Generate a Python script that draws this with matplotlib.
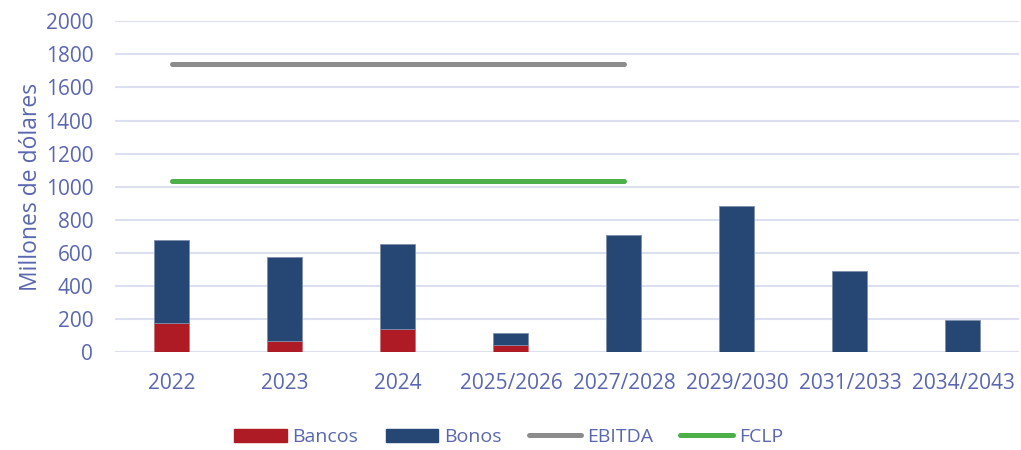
import matplotlib
matplotlib.use("Agg")
import matplotlib.pyplot as plt
from matplotlib.patches import Patch
from matplotlib.lines import Line2D
import numpy as np

categories = ["2022", "2023", "2024", "2025/2026", "2027/2028", "2029/2030", "2031/2033", "2034/2043"]
bancos = [175, 66, 141, 42, 0, 0, 0, 0]
bonos = [502, 510, 511, 73, 707, 884, 489, 195]
ebitda_value = 1740
fclp_value = 1033
line_span = ["2022", "2027/2028"]
yticks = [0, 200, 400, 600, 800, 1000, 1200, 1400, 1600, 1800, 2000]

text_color = "#5a67b0"
red = "#ae1b24"
blue = "#264673"
gray = "#8c8c8c"
green = "#4caf48"
grid_color = "#dcdfef"

plt.rcParams['font.family'] = ['Open Sans', 'DejaVu Sans']

fig = plt.figure(figsize=(10.21, 4.5), dpi=100)
ax = fig.add_axes([0.1131, 0.2171, 0.9985 - 0.1131, 0.9527 - 0.2171])

x = np.arange(len(categories))
w = 0.31
ax.bar(x, bancos, width=w, color=red, edgecolor="#c9707a", linewidth=0.6, zorder=3)
ax.bar(x, bonos, width=w, bottom=bancos, color=blue, edgecolor="#7f90ad", linewidth=0.6, zorder=3)

i0, i1 = categories.index(line_span[0]), categories.index(line_span[1])
ax.plot([i0, i1], [ebitda_value, ebitda_value], color=gray, lw=3.6, solid_capstyle="round", zorder=4)
ax.plot([i0, i1], [fclp_value, fclp_value], color=green, lw=3.6, solid_capstyle="round", zorder=4)

ax.set_xlim(-0.5, len(categories) - 0.5)
ax.set_ylim(0, 2000)
ax.set_yticks(yticks)
ax.set_xticks(x)
ax.set_xticklabels(categories)
ax.grid(axis="y", color=grid_color, lw=1.5, zorder=0)
for s in ax.spines.values():
    s.set_visible(False)
ax.tick_params(axis="both", length=0, labelsize=15, labelcolor=text_color)
ax.tick_params(axis="x", pad=15)
ax.tick_params(axis="y", pad=16)
ax.set_ylabel("Millones de dólares", fontsize=16.5, color=text_color, labelpad=2)

handles = [
    Patch(facecolor=red, edgecolor=red),
    Patch(facecolor=blue, edgecolor=blue),
    Line2D([0], [0], color=gray, lw=3.6, solid_capstyle="round"),
    Line2D([0], [0], color=green, lw=3.6, solid_capstyle="round"),
]
labels = ["Bancos", "Bonos", "EBITDA", "FCLP"]
leg = fig.legend(handles, labels, loc="center", bbox_to_anchor=(0.498, 0.029), ncol=4,
                 frameon=False, fontsize=14, handlelength=2.7, handleheight=0.65,
                 handletextpad=0.3, columnspacing=1.4, labelcolor=text_color)

fig.savefig("out.png", dpi=100)
